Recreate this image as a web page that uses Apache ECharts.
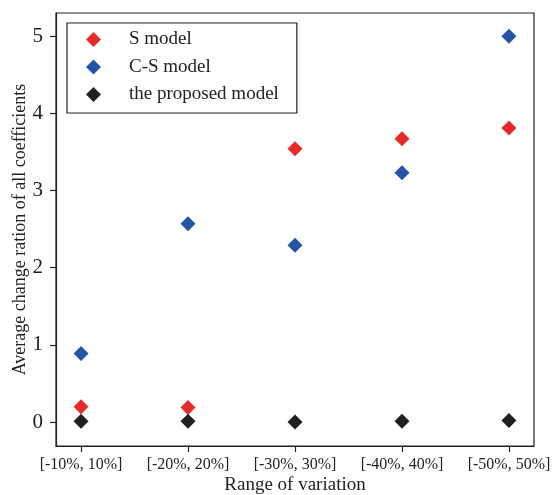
<!DOCTYPE html>
<html>
<head>
<meta charset="utf-8">
<script src="https://cdn.jsdelivr.net/npm/echarts@6/dist/echarts.min.js"></script>
<style>
  html, body { margin: 0; padding: 0; background: #fff; }
  #chart { width: 553px; height: 495px; }
</style>
</head>
<body>
<div id="chart"></div>
<script>
// Ranges of variation on the x axis
var categories = ['[-10%, 10%]', '[-20%, 20%]', '[-30%, 30%]', '[-40%, 40%]', '[-50%, 50%]'];
// Average change ratio for each model
var sModel = [0.20, 0.19, 3.54, 3.67, 3.81];
var csModel = [0.89, 2.57, 2.29, 3.23, 5.00];
var proposedModel = [0.01, 0.01, 0.00, 0.01, 0.02];
var yTicks = [0, 1, 2, 3, 4, 5];

var FONT = '"Liberation Serif", "DejaVu Serif", serif';

function toPoints(values) {
  return values.map(function (v, i) { return [i, v]; });
}

var chart = echarts.init(document.getElementById('chart'), null, { renderer: 'canvas' });

var markerSize = 15;

chart.setOption({
  animation: false,
  backgroundColor: '#fff',
  grid: {
    left: 56, top: 13, right: 19, bottom: 49,
    outerBoundsMode: 'none', containLabel: false,
    show: true, borderColor: '#222', borderWidth: 1.2, backgroundColor: 'transparent'
  },
  legend: {
    orient: 'vertical',
    left: 67, top: 23,
    padding: [7, 18, 9, 19],
    itemWidth: markerSize, itemHeight: markerSize,
    itemGap: 8.5,
    borderColor: '#222', borderWidth: 1.2, borderRadius: 0,
    icon: 'diamond',
    textStyle: { fontFamily: FONT, fontSize: 19, lineHeight: 19, color: '#222', padding: [0, 0, 0, 23] },
    data: ['S model', 'C-S model', 'the proposed model']
  },
  xAxis: {
    type: 'value',
    min: -0.234, max: 4.234,
    name: 'Range of variation',
    nameLocation: 'middle', nameGap: 30, nameMoveOverlap: false,
    nameTextStyle: { fontFamily: FONT, fontSize: 19, color: '#222' },
    axisLine: { show: true, onZero: false, lineStyle: { color: '#222', width: 1.2 } },
    axisTick: { show: true, length: 6, lineStyle: { color: '#222', width: 1.2 }, customValues: [0, 1, 2, 3, 4] },
    axisLabel: {
      fontFamily: FONT, fontSize: 16, color: '#222', margin: 11,
      customValues: [0, 1, 2, 3, 4],
      formatter: function (v) { return categories[Math.round(v)] || ''; }
    },
    splitLine: { show: false }
  },
  yAxis: {
    type: 'value',
    min: -0.31, max: 5.30,
    name: 'Average change ration of all coefficients',
    nameLocation: 'middle', nameGap: 27, nameRotate: 90, nameMoveOverlap: false,
    nameTextStyle: { fontFamily: FONT, fontSize: 18, color: '#222' },
    axisLine: { show: true, onZero: false, lineStyle: { color: '#222', width: 1.2 } },
    axisTick: { show: true, length: 6, lineStyle: { color: '#222', width: 1.2 }, customValues: yTicks },
    axisLabel: {
      fontFamily: FONT, fontSize: 21, color: '#222', margin: 13,
      customValues: yTicks,
      formatter: function (v) { return String(Math.round(v)); }
    },
    splitLine: { show: false }
  },
  series: [
    {
      name: 'S model', type: 'scatter', symbol: 'diamond', symbolSize: markerSize,
      itemStyle: { color: '#e82a2b', opacity: 1 }, data: toPoints(sModel), z: 3
    },
    {
      name: 'C-S model', type: 'scatter', symbol: 'diamond', symbolSize: markerSize,
      itemStyle: { color: '#2553a5', opacity: 1 }, data: toPoints(csModel), z: 3
    },
    {
      name: 'the proposed model', type: 'scatter', symbol: 'diamond', symbolSize: markerSize,
      itemStyle: { color: '#231f20', opacity: 1 }, data: toPoints(proposedModel), z: 3
    }
  ]
});
</script>
</body>
</html>
